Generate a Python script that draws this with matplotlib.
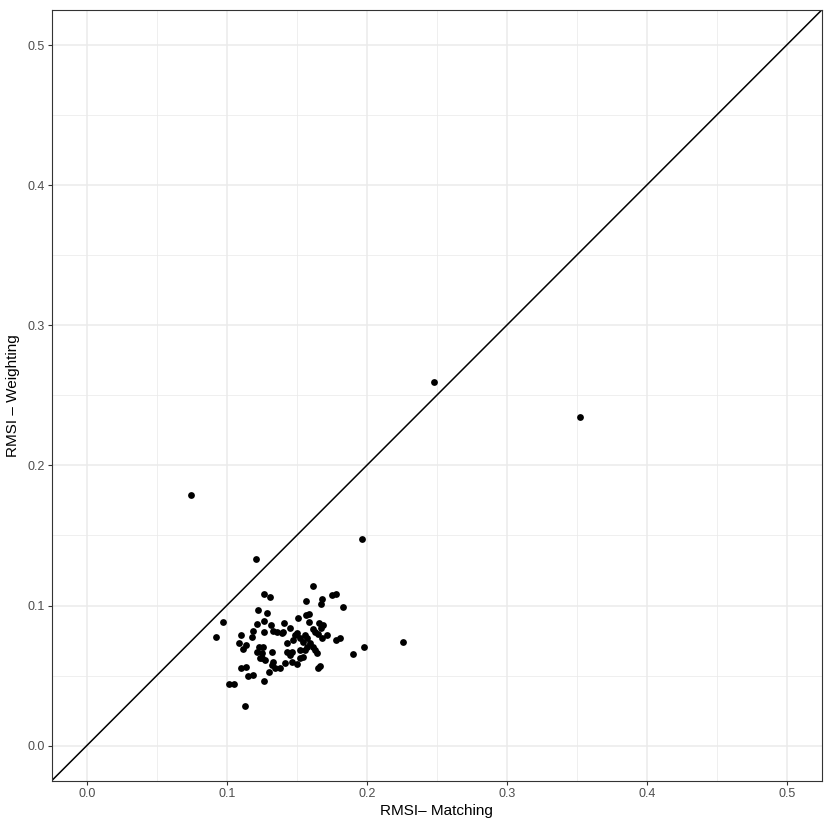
import matplotlib
matplotlib.use("Agg")
import matplotlib.pyplot as plt
import numpy as np

plt.rcParams['font.family'] = ['Liberation Sans', 'DejaVu Sans']

rmsi_matching = [
    0.0744, 0.2479, 0.3521, 0.1963, 0.1208, 0.2260, 0.0923, 0.0971, 0.1130, 0.1018,
    0.1054, 0.1979, 0.1903, 0.1832, 0.1268, 0.1308, 0.1565, 0.1225, 0.1289, 0.1268,
    0.1213, 0.1315, 0.1408, 0.1189, 0.1178, 0.1099, 0.1089, 0.1137, 0.1113, 0.1268,
    0.1332, 0.1392, 0.1451, 0.1510, 0.1565, 0.1475, 0.1428, 0.1232, 0.1260, 0.1213,
    0.1249, 0.1320, 0.1237, 0.1273, 0.1428, 0.1451, 0.1522, 0.1570, 0.1320, 0.1344,
    0.1380, 0.1415, 0.1463, 0.1499, 0.1303, 0.1099, 0.1135, 0.1149, 0.1189, 0.1268,
    0.1617, 0.1749, 0.1784, 0.1682, 0.1670, 0.1589, 0.1589, 0.1660, 0.1689, 0.1677,
    0.1613, 0.1499, 0.1558, 0.1570, 0.1653, 0.1713, 0.1684, 0.1784, 0.1808, 0.1546,
    0.1594, 0.1617, 0.1558, 0.1629, 0.1642, 0.1546, 0.1522, 0.1665, 0.1653, 0.1463,
    0.1356, 0.1404, 0.1487, 0.1522, 0.1630, 0.1249, 0.1332,
]
rmsi_weighting = [
    0.1789, 0.2596, 0.2346, 0.1472, 0.1333, 0.0742, 0.0778, 0.0885, 0.0285, 0.0438,
    0.0438, 0.0707, 0.0655, 0.0992, 0.1083, 0.1059, 0.1035, 0.0969, 0.0949, 0.0892,
    0.0869, 0.0862, 0.0878, 0.0821, 0.0778, 0.0790, 0.0735, 0.0719, 0.0688, 0.0814,
    0.0821, 0.0807, 0.0838, 0.0909, 0.0933, 0.0754, 0.0731, 0.0707, 0.0707, 0.0671,
    0.0660, 0.0671, 0.0624, 0.0612, 0.0671, 0.0647, 0.0683, 0.0707, 0.0576, 0.0552,
    0.0552, 0.0588, 0.0600, 0.0583, 0.0528, 0.0552, 0.0564, 0.0497, 0.0505, 0.0464,
    0.1142, 0.1076, 0.1081, 0.1045, 0.1009, 0.0938, 0.0885, 0.0874, 0.0862, 0.0838,
    0.0831, 0.0802, 0.0790, 0.0767, 0.0795, 0.0790, 0.0767, 0.0754, 0.0767, 0.0742,
    0.0731, 0.0707, 0.0683, 0.0683, 0.0660, 0.0635, 0.0624, 0.0569, 0.0552, 0.0671,
    0.0814, 0.0814, 0.0790, 0.0767, 0.0814, 0.0624, 0.0600,
]
ticks = [0.0, 0.1, 0.2, 0.3, 0.4, 0.5]
tick_labels = ["0.0", "0.1", "0.2", "0.3", "0.4", "0.5"]
minor_ticks = [0.05, 0.15, 0.25, 0.35, 0.45]

fig = plt.figure(figsize=(8.3, 8.3), dpi=100)
ax = fig.add_axes([51.7/830, (830-780.7)/830, 770/830, 770.7/830])
ax.set_xlim(-0.025, 0.525)
ax.set_ylim(-0.025, 0.525)

ax.set_xticks(ticks)
ax.set_xticklabels(tick_labels)
ax.set_yticks(ticks)
ax.set_yticklabels(tick_labels)
ax.set_xticks(minor_ticks, minor=True)
ax.set_yticks(minor_ticks, minor=True)
ax.grid(True, which='major', color='#EBEBEB', linewidth=1.1, zorder=0)
ax.grid(True, which='minor', color='#EBEBEB', linewidth=0.55, zorder=0)
ax.set_axisbelow(True)
ax.tick_params(which='minor', length=0)
ax.tick_params(which='major', length=3, width=0.8, color='#333333',
               labelsize=9, labelcolor='#4D4D4D', pad=2)
for sp in ax.spines.values():
    sp.set_color('#333333')
    sp.set_linewidth(0.8)

ax.axline((0, 0), slope=1, color='black', linewidth=1.1, zorder=2)
ax.scatter(rmsi_matching, rmsi_weighting, s=24, color='black', linewidths=0, zorder=3)

ax.set_xlabel("RMSI– Matching", fontsize=11, color='black', labelpad=3)
ax.set_ylabel("RMSI – Weighting", fontsize=11, color='black', labelpad=5)

fig.savefig("out.png", dpi=100, facecolor='white')
